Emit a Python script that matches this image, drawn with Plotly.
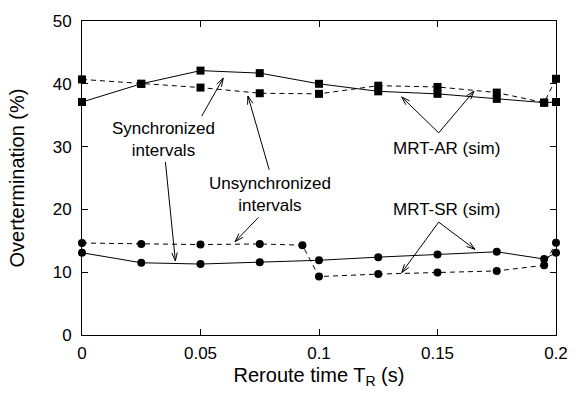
import math
import plotly.graph_objects as go

# ---- data ----
x_ar = [0, 0.025, 0.05, 0.075, 0.1, 0.125, 0.15, 0.175, 0.195, 0.2]
ar_sync = [37.1, 40.0, 42.1, 41.7, 40.0, 38.8, 38.4, 37.6, 37.0, 37.1]
ar_unsync = [40.7, 40.0, 39.4, 38.5, 38.4, 39.7, 39.5, 38.6, 37.0, 40.8]

x_sr_sync = [0, 0.025, 0.05, 0.075, 0.1, 0.125, 0.15, 0.175, 0.195, 0.2]
sr_sync = [13.1, 11.5, 11.3, 11.6, 11.9, 12.4, 12.8, 13.25, 12.1, 13.1]
x_sr_unsync = [0, 0.025, 0.05, 0.075, 0.093, 0.1, 0.125, 0.15, 0.175, 0.195, 0.2]
sr_unsync = [14.65, 14.5, 14.4, 14.5, 14.3, 9.3, 9.7, 9.95, 10.2, 11.1, 14.7]

x_ticks = [0, 0.05, 0.1, 0.15, 0.2]
x_tick_labels = ["0", "0.05", "0.1", "0.15", "0.2"]
y_ticks = [0, 10, 20, 30, 40, 50]

# label texts with anchor positions (data coords)
labels = [
    ("Synchronized<br>intervals", 0.0345, 31.2),
    ("Unsynchronized<br>intervals", 0.0795, 22.45),
    ("MRT-AR (sim)", 0.1539, 29.76),
    ("MRT-SR (sim)", 0.1539, 19.93),
]
# arrows: (tail_x, tail_y, tip_x, tip_y)
arrows = [
    (0.0505, 34.86, 0.0596, 40.89),
    (0.0352, 27.55, 0.0394, 11.79),
    (0.0790, 26.31, 0.0700, 38.06),
    (0.0745, 18.74, 0.0646, 14.88),
    (0.1505, 32.19, 0.1349, 37.90),
    (0.1505, 32.19, 0.1654, 38.83),
    (0.1505, 17.97, 0.1658, 13.64),
    (0.1505, 17.97, 0.1349, 9.94),
]

W, H = 580, 394
ML, MR, MT, MB = 82, 14, 15, 56
PW, PH = W - ML - MR, H - MT - MB
XR = (0, 0.2)
YR = (0, 50)
sx = PW / (XR[1] - XR[0])
sy = PH / (YR[1] - YR[0])

FONT = "Liberation Sans, Arial, Helvetica, sans-serif"
fig = go.Figure()

mk_sq = dict(symbol="square", size=8, color="black")
mk_ci = dict(symbol="circle", size=8, color="black")
solid = dict(color="black", width=1)
dashed = dict(color="black", width=1, dash="5px,4px")

fig.add_trace(go.Scatter(x=x_ar, y=ar_sync, mode="lines+markers", line=solid, marker=mk_sq, cliponaxis=False))
fig.add_trace(go.Scatter(x=x_ar, y=ar_unsync, mode="lines+markers", line=dashed, marker=mk_sq, cliponaxis=False))
fig.add_trace(go.Scatter(x=x_sr_sync, y=sr_sync, mode="lines+markers", line=solid, marker=mk_ci, cliponaxis=False))
fig.add_trace(go.Scatter(x=x_sr_unsync, y=sr_unsync, mode="lines+markers", line=dashed, marker=mk_ci, cliponaxis=False))

shapes = []
L = 9.0
A = math.radians(18)
for tx, ty, hx, hy in arrows:
    shapes.append(dict(type="line", x0=tx, y0=ty, x1=hx, y1=hy, line=dict(color="black", width=1)))
    dx = (hx - tx) * sx
    dy = (hy - ty) * sy
    n = math.hypot(dx, dy)
    ux, uy = dx / n, dy / n
    for s in (A, -A):
        rx = ux * math.cos(s) - uy * math.sin(s)
        ry = ux * math.sin(s) + uy * math.cos(s)
        px = hx - L * rx / sx
        py = hy - L * ry / sy
        shapes.append(dict(type="line", x0=hx, y0=hy, x1=px, y1=py, line=dict(color="black", width=1)))

annotations = []
for t, x, y in labels:
    annotations.append(dict(text=t, x=x, y=y, xref="x", yref="y", showarrow=False,
                            font=dict(family=FONT, size=17, color="black"), align="center"))

fig.update_layout(
    width=W, height=H,
    margin=dict(l=ML, r=MR, t=MT, b=MB),
    paper_bgcolor="white", plot_bgcolor="white",
    showlegend=False,
    font=dict(family=FONT, size=17, color="black"),
    shapes=shapes,
    annotations=annotations,
    xaxis=dict(range=list(XR), tickvals=x_ticks, ticktext=x_tick_labels,
               ticks="inside", ticklen=6, tickcolor="black", showgrid=False, zeroline=False,
               showline=True, linecolor="black", linewidth=1, mirror="allticks",
               ticklabelstandoff=3,
               title=dict(text="Reroute time T<sub>R</sub> (s)", standoff=5)),
    yaxis=dict(range=list(YR), tickvals=y_ticks,
               ticks="inside", ticklen=6, tickcolor="black", showgrid=False, zeroline=False,
               showline=True, linecolor="black", linewidth=1, mirror="allticks",
               ticklabelstandoff=6,
               title=dict(text="Overtermination (%)", standoff=22)),
)

fig.write_html("out.html")
